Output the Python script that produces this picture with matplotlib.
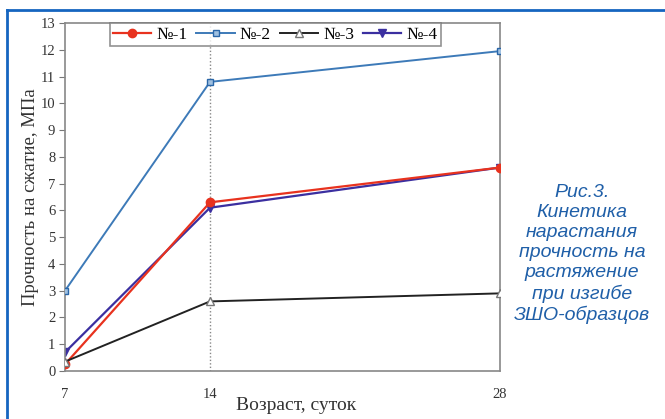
import matplotlib
matplotlib.use("Agg")
import matplotlib.pyplot as plt
from matplotlib.lines import Line2D

# Data
days = [7, 14, 28]
s1 = [0.25, 6.3, 7.6]
s2 = [3.0, 10.8, 11.95]
s3 = [0.35, 2.6, 2.9]
s4 = [0.7, 6.1, 7.6]
names = ["№-1", "№-2", "№-3", "№-4"]
caption = "Рис.3.\nКинетика\nнарастания\nпрочность на\nрастяжение\nпри изгибе\nЗШО-образцов"

serif = ["Liberation Serif", "DejaVu Serif"]

fig = plt.figure(figsize=(6.65, 4.19), dpi=100)
ax = fig.add_axes([65 / 665, 1 - 371 / 419, 435 / 665, 348 / 419])

ax.axvline(14, color="#888888", ls=(0, (1, 1.5)), lw=1.0, zorder=1)

ax.plot(days, s1, color="#e8321e", marker="o", ms=6, lw=1.6, zorder=3)
ax.plot(days, s2, color="#3d7ab8", marker="s", ms=5, mfc="#9fc0e0", mec="#2a66a8", lw=1.4, zorder=3)
ax.plot(days, s3, color="#222222", marker="^", ms=6, mfc="white", mec="#777777", lw=1.4, zorder=3)
ax.plot(days, s4, color="#3b2fa0", marker="v", ms=6, mfc="#3b2fa0", lw=1.6, zorder=2)

ax.set_xlim(7, 28)
ax.set_ylim(0, 13)
ax.set_xticks(days)
ax.set_yticks(range(0, 14))
ax.tick_params(axis="y", direction="out", length=4, color="#777777", labelsize=10.5, pad=3)
ax.tick_params(axis="x", length=0, labelsize=10.5, pad=12)
for lab in ax.get_xticklabels() + ax.get_yticklabels():
    lab.set_family(serif)
    lab.set_color("#333333")
for sp in ax.spines.values():
    sp.set_color("#888888")
    sp.set_linewidth(1.2)

ax.set_ylabel("Прочность на сжатие, МПа", family=serif, fontsize=13.5, color="#333333", labelpad=1)
ax.set_xlabel("Возраст, суток", family=serif, fontsize=14, color="#333333", labelpad=0)
ax.xaxis.set_label_coords((296 - 65) / 435, -0.075)

handles = [
    Line2D([], [], color="#e8321e", marker="o", ms=6, lw=1.6),
    Line2D([], [], color="#3d7ab8", marker="s", ms=5, mfc="#9fc0e0", mec="#2a66a8", lw=1.4),
    Line2D([], [], color="#222222", marker="^", ms=6, mfc="white", mec="#777777", lw=1.4),
    Line2D([], [], color="#3b2fa0", marker="v", ms=6, lw=1.6),
]
leg = ax.legend(handles, names, ncol=4, loc="upper left", bbox_to_anchor=(0.103, 1.0),
                prop={"family": serif, "size": 12.5}, frameon=True, fancybox=False,
                handlelength=2.2, handletextpad=0.3, columnspacing=0.5,
                borderpad=0.2, borderaxespad=0)
leg.get_frame().set_edgecolor("#777777")
leg.get_frame().set_linewidth(1.2)

fig.text(582 / 665, 1 - 254 / 419, caption, ha="center", va="center", color="#1f5fa8",
         fontsize=14, style="italic", family="Liberation Sans", linespacing=1.24)

# blue frame: top and left lines
fig.add_artist(Line2D([7 / 665, 1], [1 - 10 / 419, 1 - 10 / 419], color="#1565c0", lw=2))
fig.add_artist(Line2D([7 / 665, 7 / 665], [0, 1 - 10 / 419], color="#1565c0", lw=2))

fig.savefig("out.png", dpi=100)
